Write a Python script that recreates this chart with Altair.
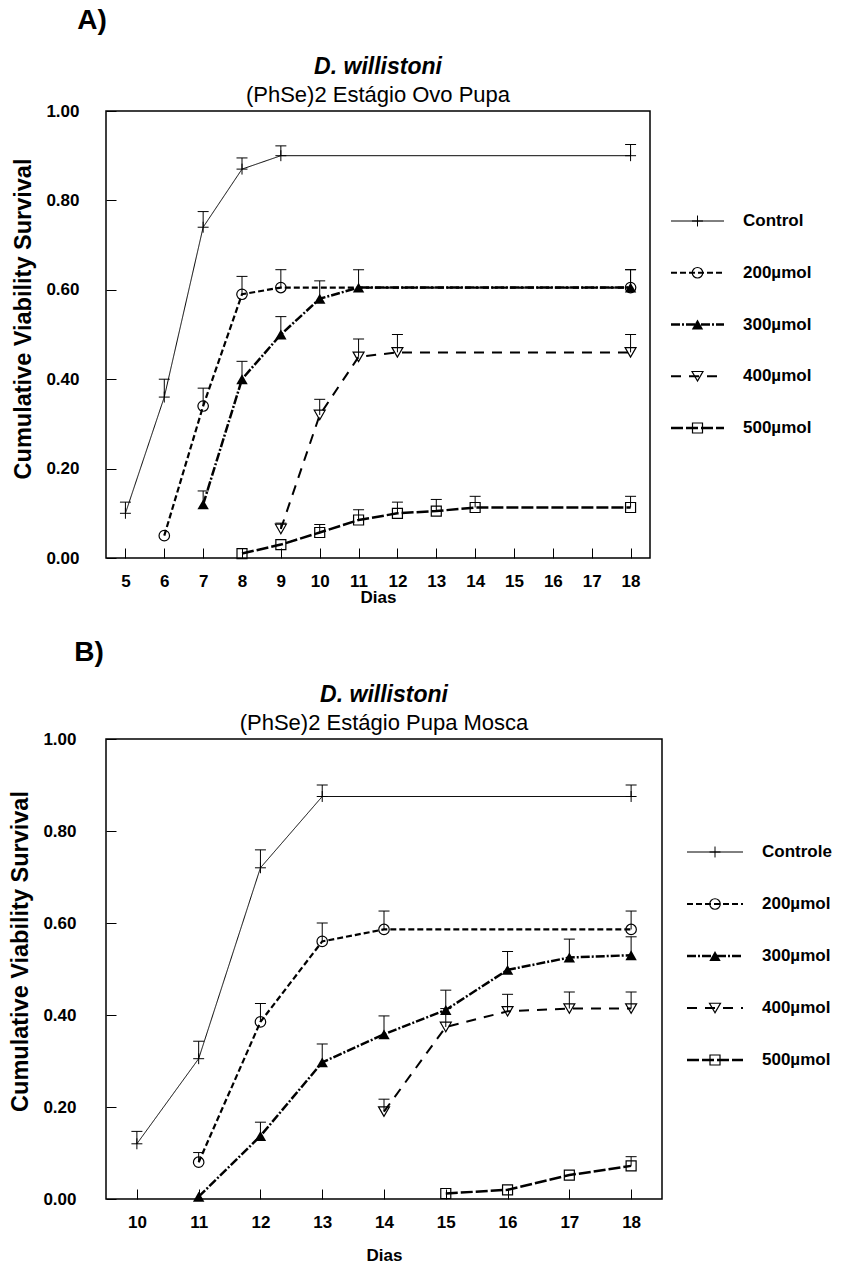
import altair as alt
import pandas as pd

FONT = "Liberation Sans"

days_A = list(range(5, 19))
days_B = list(range(10, 19))
labels_A = ["Control", "200µmol", "300µmol", "400µmol", "500µmol"]
labels_B = ["Controle", "200µmol", "300µmol", "400µmol", "500µmol"]

# ---- Panel A (Ovo -> Pupa) ----
A_ctrl_day = [5, 6, 7, 8, 9, 18]
A_ctrl_val = [0.10, 0.36, 0.74, 0.87, 0.90, 0.90]
A_ctrl_err = [0.025, 0.04, 0.035, 0.025, 0.022, 0.025]
A_200_day = [6, 7, 8, 9, 18]
A_200_val = [0.05, 0.34, 0.59, 0.605, 0.605]
A_200_err = [None, 0.04, 0.04, 0.04, 0.04]
A_300_day = [7, 8, 9, 10, 11, 18]
A_300_val = [0.12, 0.40, 0.50, 0.58, 0.605, 0.605]
A_300_err = [0.03, 0.04, 0.04, 0.04, 0.04, 0.04]
A_400_day = [9, 10, 11, 12, 18]
A_400_val = [0.065, 0.32, 0.45, 0.46, 0.46]
A_400_err = [0.013, 0.035, 0.04, 0.04, 0.04]
A_500_day = [8, 9, 10, 11, 12, 13, 14, 18]
A_500_val = [0.01, 0.03, 0.057, 0.085, 0.10, 0.105, 0.113, 0.113]
A_500_err = [None, None, 0.018, 0.023, 0.025, 0.026, 0.025, 0.025]

# ---- Panel B (Pupa -> Mosca) ----
B_ctrl_day = [10, 11, 12, 13, 18]
B_ctrl_val = [0.12, 0.305, 0.72, 0.875, 0.875]
B_ctrl_err = [0.027, 0.038, 0.039, 0.025, 0.025]
B_200_day = [11, 12, 13, 14, 18]
B_200_val = [0.08, 0.385, 0.56, 0.586, 0.586]
B_200_err = [0.021, 0.04, 0.04, 0.04, 0.04]
B_300_day = [11, 12, 13, 14, 15, 16, 17, 18]
B_300_val = [0.005, 0.137, 0.297, 0.358, 0.411, 0.498, 0.525, 0.530]
B_300_err = [None, 0.03, 0.04, 0.04, 0.043, 0.04, 0.04, 0.04]
B_400_day = [14, 15, 16, 17, 18]
B_400_val = [0.19, 0.374, 0.408, 0.414, 0.414]
B_400_err = [0.027, 0.04, 0.037, 0.036, 0.036]
B_500_day = [15, 16, 17, 18]
B_500_val = [0.012, 0.02, 0.052, 0.072]
B_500_err = [None, None, None, 0.02]

PLUS = "M-1,0L1,0M0,-1L0,1"
styles = [
    dict(dash=[1, 0], width=1.0, shape=PLUS, fill=False, size=120, pw=1.0),
    dict(dash=[6, 3], width=2.2, shape="circle", fill=False, size=110, pw=1.2),
    dict(dash=[9, 2, 2, 2], width=2.5, shape="triangle-up", fill=True, size=130, pw=1.0),
    dict(dash=[10, 8], width=2.0, shape="triangle-down", fill=False, size=120, pw=1.2),
    dict(dash=[12, 3], width=2.5, shape="square", fill=False, size=100, pw=1.2),
]


def frame(labels, groups):
    rows = []
    for lab, (d, v, e) in zip(labels, groups):
        for di, vi, ei in zip(d, v, e):
            rows.append({"series": lab, "day": di, "value": vi,
                         "err": ei, "upper": (vi + ei) if ei is not None else None})
    return pd.DataFrame(rows)


dfA = frame(labels_A, [(A_ctrl_day, A_ctrl_val, A_ctrl_err), (A_200_day, A_200_val, A_200_err),
                       (A_300_day, A_300_val, A_300_err), (A_400_day, A_400_val, A_400_err),
                       (A_500_day, A_500_val, A_500_err)])
dfB = frame(labels_B, [(B_ctrl_day, B_ctrl_val, B_ctrl_err), (B_200_day, B_200_val, B_200_err),
                       (B_300_day, B_300_val, B_300_err), (B_400_day, B_400_val, B_400_err),
                       (B_500_day, B_500_val, B_500_err)])


def panel(df, labels, days, subtitle, width, height, ylabpad, xtitlepad, ytitle_shift):
    xenc = alt.X("day:O", scale=alt.Scale(type="point", domain=days, padding=0.5),
                 axis=alt.Axis(title="Dias", labelAngle=0, offset=-10, tickSize=10, domain=False,
                               grid=False, labelFontSize=17, labelFontWeight="bold", labelPadding=15,
                               titleFontSize=17, titleFontWeight="bold", titlePadding=xtitlepad,
                               labelFont=FONT, titleFont=FONT, tickColor="black",
                               labelColor="black", titleColor="black"))
    yscale = alt.Scale(domain=[0, 1], nice=False, zero=True)
    yaxis = alt.Axis(title="Cumulative Viability Survival", values=[0, 0.2, 0.4, 0.6, 0.8, 1.0],
                     format=".2f", offset=-10, tickSize=10, domain=False, grid=False,
                     labelFontSize=17, labelFontWeight="bold", labelPadding=ylabpad,
                     titleFontSize=23.5, titleFontWeight="bold", titlePadding=10,
                     titleY=height / 2 - ytitle_shift,
                     labelFont=FONT, titleFont=FONT, tickColor="black",
                     labelColor="black", titleColor="black")
    layers = []
    for lab, st in zip(labels, styles):
        base = alt.Chart(df).transform_filter(alt.datum.series == lab)
        eb = base.transform_filter("datum.err != null")
        layers.append(eb.mark_rule(color="black", strokeWidth=1).encode(
            x=xenc, y=alt.Y("value:Q", scale=yscale, axis=yaxis), y2="upper:Q"))
        layers.append(eb.mark_tick(color="black", size=11, thickness=1, opacity=1).encode(
            x=xenc, y=alt.Y("upper:Q", scale=yscale, axis=yaxis)))
        layers.append(base.mark_line(color="black", strokeWidth=st["width"],
                                     strokeDash=st["dash"]).encode(
            x=xenc, y=alt.Y("value:Q", scale=yscale, axis=yaxis), order="day:Q"))
        layers.append(base.mark_point(shape=st["shape"], size=st["size"], filled=st["fill"],
                                      color="black", strokeWidth=st["pw"], opacity=1).encode(
            x=xenc, y=alt.Y("value:Q", scale=yscale, axis=yaxis)))
    return alt.layer(*layers).properties(
        width=width, height=height,
        view=alt.ViewBackground(stroke="black", strokeWidth=1.5),
        title=alt.TitleParams(text="D. willistoni", subtitle=subtitle, fontSize=23,
                              fontStyle="italic", fontWeight="bold", font=FONT, color="black",
                              subtitleFontSize=22, subtitleFontWeight="normal",
                              subtitleFontStyle="normal", subtitleFont=FONT,
                              subtitleColor="black", subtitlePadding=6, offset=-4,
                              anchor="middle", frame="group"))


def legend(labels, width, height, rows, line_len, text_x):
    ldf = pd.DataFrame({"series": labels, "x0": [0] * 5, "x1": [line_len] * 5,
                        "xm": [line_len / 2] * 5, "xt": [text_x] * 5})
    xs = alt.Scale(domain=[0, width], nice=False, zero=False)
    ys = alt.Scale(type="point", domain=labels, range=rows, padding=0)
    yenc = alt.Y("series:N", scale=ys, axis=None)
    layers = []
    for lab, st in zip(labels, styles):
        b = alt.Chart(ldf).transform_filter(alt.datum.series == lab)
        layers.append(b.mark_rule(color="black", strokeWidth=st["width"],
                                  strokeDash=st["dash"]).encode(
            x=alt.X("x0:Q", scale=xs, axis=None), x2="x1:Q", y=yenc))
        layers.append(b.mark_point(shape=st["shape"], size=st["size"], filled=st["fill"],
                                   color="black", strokeWidth=st["pw"], opacity=1).encode(
            x=alt.X("xm:Q", scale=xs, axis=None), y=yenc))
    layers.append(alt.Chart(ldf).mark_text(align="left", baseline="middle", fontSize=17,
                                           fontWeight="bold", font=FONT, color="black").encode(
        x=alt.X("xt:Q", scale=xs, axis=None), y=yenc, text="series:N"))
    return alt.layer(*layers).properties(width=width, height=height,
                                         view=alt.ViewBackground(strokeWidth=0))


plotA = panel(dfA, labels_A, days_A, "(PhSe)2 Estágio Ovo Pupa", 544, 447, 27, 0, 16)
plotB = panel(dfB, labels_B, days_B, "(PhSe)2 Estágio Pupa Mosca", 556, 460, 30, 17, 18)
legA = legend(labels_A, 160, 447, [110, 317], 53, 72)
legB = legend(labels_B, 160, 460, [113, 321], 56, 75)

rowA = alt.hconcat(plotA, legA, spacing=18).properties(
    title=alt.TitleParams(text="A)", anchor="start", fontSize=28, fontWeight="bold",
                          font=FONT, color="black", dx=66, offset=20))
rowB = alt.hconcat(plotB, legB, spacing=22).properties(
    title=alt.TitleParams(text="B)", anchor="start", fontSize=28, fontWeight="bold",
                          font=FONT, color="black", dx=66, offset=16))

chart = alt.vconcat(rowA, rowB, spacing=33).properties(
    padding={"left": 8, "top": 7, "right": 0, "bottom": 0}
).configure_view(stroke=None).configure(background="white")

chart.save("out.html", embed_options={"renderer": "svg", "actions": False})
